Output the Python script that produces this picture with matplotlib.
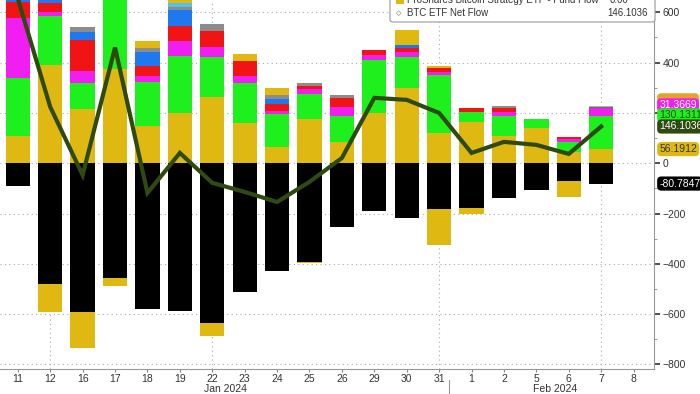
import numpy as np
import matplotlib
matplotlib.use('Agg')
import matplotlib.pyplot as plt
from matplotlib.patches import FancyBboxPatch, Rectangle

plt.rcParams['font.family'] = ['Liberation Sans', 'DejaVu Sans']

# trading days, Jan 11 - Feb 8 2024
days = ['11', '12', '16', '17', '18', '19', '22', '23', '24', '25', '26',
        '29', '30', '31', '1', '2', '5', '6', '7', '8']

# per-fund flows ($m)
gold_pos = [110, 391, 215, 375, 148, 201, 262, 161, 66, 175, 86, 201, 301, 119, 165, 109, 139, 46, 56.19, 0]
green    = [228, 195, 103, 500, 176, 225, 159, 159, 129, 99, 103, 209, 121, 232, 40, 80, 37, 40, 130.13, 0]
magenta  = [239, 15, 49, 40, 23, 60, 42, 27, 13, 20, 33, 20, 22, 13, 0, 13, 0, 11, 31.37, 0]
red      = [64, 37, 121, 33, 40, 61, 62, 60, 28, 13, 38, 20, 16, 16, 16, 17, 0, 9, 0, 0]
blue     = [40, 30, 33, 20, 57, 62, 0, 0, 20, 0, 0, 0, 11, 0, 0, 0, 0, 0, 6, 0]
gray     = [20, 20, 22, 10, 13, 12, 28, 0, 16, 11, 11, 0, 0, 0, 0, 8, 0, 0, 0, 0]
ltblue   = [0, 10, 0, 0, 0, 16, 0, 0, 0, 0, 0, 0, 0, 0, 0, 0, 0, 0, 0, 0]
gold_top = [0, 0, 0, 0, 30, 40, 0, 27, 27, 0, 0, 0, 57, 7, 0, 0, 0, 0, 3, 0]
black    = [-90, -480, -592, -457, -580, -589, -636, -513, -427, -391, -252, -190, -219, -183, -179, -139, -106, -70, -80.78, 0]
gold_neg = [0, -110, -144, -31, 0, 0, -49, 0, 0, -6, 0, 0, 0, -142, -24, 0, 0, -63, 0, 0]

net_flow = [655, 224, -47, 460, -118, 41, -78, -114, -154, -74, 21, 260, 252, 200, 41, 85, 73, 37, 146.1036, np.nan]

C_GOLD = '#DFB912'
C_GREEN = '#1EF01E'
C_MAG = '#F01EF0'
C_RED = '#F01414'
C_BLUE = '#1E78F0'
C_GRAY = '#8C8C8C'
C_LTBLUE = '#4FC3E8'
C_ORANGE = '#E8A028'
C_LINE = '#2F4A10'

fig = plt.figure(figsize=(7, 3.94), dpi=100)
ax = fig.add_axes([0, 25 / 394, 654 / 700, 369 / 394])

x = np.arange(len(days))
w = 0.75
bottom = np.zeros(len(days))
for vals, col in [(gold_pos, C_GOLD), (green, C_GREEN), (magenta, C_MAG), (red, C_RED),
                  (blue, C_BLUE), (gray, C_GRAY), (ltblue, C_LTBLUE), (gold_top, C_GOLD)]:
    ax.bar(x, vals, w, bottom=bottom, color=col, zorder=2)
    bottom += np.array(vals)
ax.bar(x, black, w, color='black', zorder=2)
ax.bar(x, gold_neg, w, bottom=black, color=C_GOLD, zorder=2)

ax.plot(x, net_flow, color=C_LINE, lw=3, zorder=3, solid_joinstyle='miter')

ax.set_xlim(-0.55, 19.63)
ax.set_ylim(-818, 649)

# grid
for yv in range(-800, 601, 200):
    ax.axhline(yv, color='#aaaaaa', ls=(0, (1, 3)), lw=0.8, zorder=1)
for xi in [1, 6, 13, 18]:
    ax.axvline(xi, color='#aaaaaa', ls=(0, (1, 3)), lw=0.8, zorder=1)

ax.yaxis.tick_right()
ax.set_yticks(range(-800, 601, 200))
ax.set_yticks(range(-800, 601, 100), minor=True)
ax.tick_params(axis='y', which='major', direction='out', length=4, width=1.2,
               colors='#333333', labelsize=7.5, pad=2)
ax.tick_params(axis='y', which='minor', direction='out', length=2, color='#888888')
ax.set_xticks(x)
ax.set_xticklabels(days)
ax.tick_params(axis='x', direction='out', length=2, color='#888888',
               labelsize=7.5, labelcolor='#333333', pad=1.5)
for s in ['left', 'top']:
    ax.spines[s].set_visible(False)
for s in ['right', 'bottom']:
    ax.spines[s].set_color('#999999')

fig.text(225 / 700, 1 - 389 / 394, 'Jan 2024', fontsize=7.5, color='#333333', ha='center', va='center')
fig.text(555 / 700, 1 - 389 / 394, 'Feb 2024', fontsize=7.5, color='#333333', ha='center', va='center')
fig.add_artist(plt.Line2D([449 / 700, 449 / 700], [0, 1 - 380 / 394], color='#999999', lw=0.8))

# last-value labels on the right
tr = ax.get_yaxis_transform()
labels = [
    (250, C_ORANGE, '31.3669', C_ORANGE),
    (230, C_MAG, '31.3669', 'white'),
    (190, C_GREEN, '130.1311', '#234d10'),
    (146.1036, C_LINE, '146.1036', 'white'),
    (56.19, C_GOLD, '56.1912', '#333333'),
    (-80.78, 'black', '-80.7847', 'white'),
]
for yv, fc, txt, tc in labels:
    ax.text(1.008, yv, txt, transform=tr, fontsize=7.5,
            color=tc, va='center', ha='left', clip_on=False, zorder=5,
            bbox=dict(boxstyle='round,pad=0.2,rounding_size=0.4', fc=fc, ec='none'))

# legend box (clipped by top of figure)
fig.patches.append(FancyBboxPatch((390 / 700, 1 - 22 / 394), 265 / 700, 0.1,
                                  boxstyle='round,pad=0,rounding_size=0.005',
                                  transform=fig.transFigure, fc='white', ec='#999999', lw=0.8, zorder=10))
fig.patches.append(Rectangle((396 / 700, 1 - 4 / 394), 8 / 700, 8 / 394,
                             transform=fig.transFigure, fc=C_GOLD, ec='none', zorder=11))
fig.text(407 / 700, 1 - 0 / 394, 'ProShares Bitcoin Strategy ETF - Fund Flow', fontsize=7,
         color='#333333', va='center', zorder=12)
fig.text(610 / 700, 1 - 0 / 394, '0.00', fontsize=7, color='#333333', va='center', zorder=12)
fig.text(399 / 700, 1 - 13 / 394, '\u25c7', fontsize=5, color='#555555', va='center', ha='center',
         family='DejaVu Sans', zorder=12)
fig.text(407 / 700, 1 - 13 / 394, 'BTC ETF Net Flow', fontsize=7, color='#333333', va='center', zorder=12)
fig.text(648 / 700, 1 - 13 / 394, '146.1036', fontsize=7, color='#333333', va='center', ha='right', zorder=12)

fig.savefig('out.png', dpi=100)
